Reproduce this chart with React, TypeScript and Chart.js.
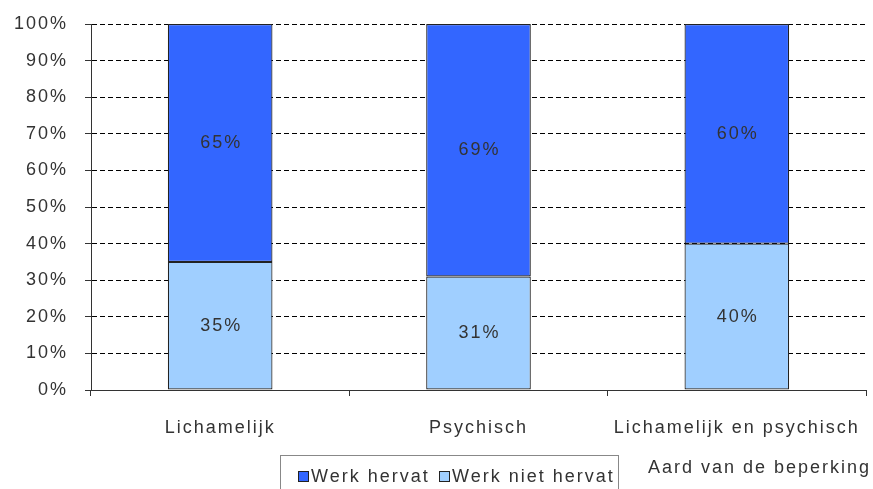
import React, { useEffect, useRef } from "react";
import { Chart, registerables } from "chart.js";

Chart.register(...registerables);

const categories = ["Lichamelijk", "Psychisch", "Lichamelijk en psychisch"];
const werkNietHervat = [35, 31, 40];
const werkHervat = [65, 69, 60];
const yTicks = [0, 10, 20, 30, 40, 50, 60, 70, 80, 90, 100];
const axisTitle = "Aard van de beperking";
const legendLabels = ["Werk hervat", "Werk niet hervat"];

const DARK = "#3366FF";
const LIGHT = "#A0CFFF";
const FONT = "'Liberation Sans', Arial, sans-serif";
const TEXT = "#333333";

const spacingPlugin = {
  id: "spacing",
  beforeLayout(chart: any) {
    chart.ctx.letterSpacing = "2px";
  },
  beforeDraw(chart: any) {
    chart.ctx.letterSpacing = "2px";
  },
};

const labelsPlugin = {
  id: "barLabels",
  afterDatasetsDraw(chart: any) {
    const ctx = chart.ctx;
    ctx.save();
    ctx.letterSpacing = "2px";
    ctx.font = `18px ${FONT}`;
    ctx.fillStyle = TEXT;
    ctx.textAlign = "center";
    ctx.textBaseline = "middle";
    chart.data.datasets.forEach((ds: any, di: number) => {
      const meta = chart.getDatasetMeta(di);
      meta.data.forEach((bar: any, i: number) => {
        const p = bar.getProps(["x", "y", "base"], true);
        ctx.fillText(ds.data[i] + "%", p.x + 1, (p.y + p.base) / 2);
      });
    });
    ctx.restore();
  },
  afterDraw(chart: any) {
    const ctx = chart.ctx;
    ctx.save();
    ctx.letterSpacing = "2px";
    ctx.font = `18px ${FONT}`;
    ctx.fillStyle = TEXT;
    ctx.textBaseline = "middle";
    ctx.textAlign = "left";
    ctx.fillText(axisTitle, 648, 468);
    // legend box
    ctx.strokeStyle = "#888888";
    ctx.lineWidth = 1;
    ctx.strokeRect(280.5, 455.5, 338, 45);
    const items = [
      { x: 298, color: DARK, label: legendLabels[0] },
      { x: 439, color: LIGHT, label: legendLabels[1] },
    ];
    items.forEach((it) => {
      ctx.fillStyle = it.color;
      ctx.fillRect(it.x, 471, 10, 10);
      ctx.strokeStyle = "#222222";
      ctx.strokeRect(it.x + 0.5, 471.5, 10, 10);
      ctx.fillStyle = TEXT;
      ctx.fillText(it.label, it.x + 13, 477);
    });
    ctx.restore();
  },
};

export default function App() {
  const ref = useRef<HTMLCanvasElement>(null);
  useEffect(() => {
    if (!ref.current) return;
    const chart = new Chart(ref.current, {
      type: "bar",
      data: {
        labels: categories,
        datasets: [
          {
            label: legendLabels[1],
            data: werkNietHervat,
            backgroundColor: LIGHT,
            borderColor: "#222222",
            borderWidth: 1.2,
            borderSkipped: false,
          },
          {
            label: legendLabels[0],
            data: werkHervat,
            backgroundColor: DARK,
            borderColor: "#222222",
            borderWidth: 1.2,
            borderSkipped: false,
          },
        ],
      },
      options: {
        animation: false,
        responsive: false,
        devicePixelRatio: 1,
        layout: { padding: { top: 24, right: 7, left: 0, bottom: 0 } },
        plugins: {
          legend: { display: false },
          tooltip: { enabled: false },
        },
        datasets: { bar: { categoryPercentage: 0.405, barPercentage: 1 } },
        scales: {
          x: {
            stacked: true,
            offset: true,
            grid: {
              offset: true,
              drawOnChartArea: false,
              drawTicks: true,
              tickLength: 6,
              color: "#333333",
            },
            border: { display: true, color: "#333333", width: 1 },
            ticks: {
              font: { family: FONT, size: 18 },
              color: TEXT,
              padding: 21,
              maxRotation: 0,
              autoSkip: false,
            },
            afterFit(s: any) {
              s.height = 99;
              s.paddingLeft = 0;
              s.paddingRight = 0;
            },
          },
          y: {
            stacked: true,
            min: 0,
            max: 100,
            afterBuildTicks(s: any) {
              s.ticks = yTicks.map((v) => ({ value: v }));
            },
            grid: {
              color: "#000000",
              lineWidth: 1,
              drawTicks: true,
              tickLength: 6,
              tickColor: "#333333",
              tickBorderDash: [],
            },
            border: { display: true, color: "#333333", width: 1, dash: [5, 3] },
            ticks: {
              font: { family: FONT, size: 18 },
              color: TEXT,
              padding: 17,
              callback: (v: any) => v + "%",
            },
            afterFit(s: any) {
              s.width = 91;
              s.paddingTop = 0;
              s.paddingBottom = 0;
            },
          },
        },
      },
      plugins: [spacingPlugin, labelsPlugin],
    } as any);
    return () => chart.destroy();
  }, []);
  return (
    <div style={{ position: "absolute", left: 0, top: 0, width: 873, height: 489, background: "#fff" }}>
      <canvas ref={ref} width={873} height={489} style={{ width: 873, height: 489 }} />
    </div>
  );
}
